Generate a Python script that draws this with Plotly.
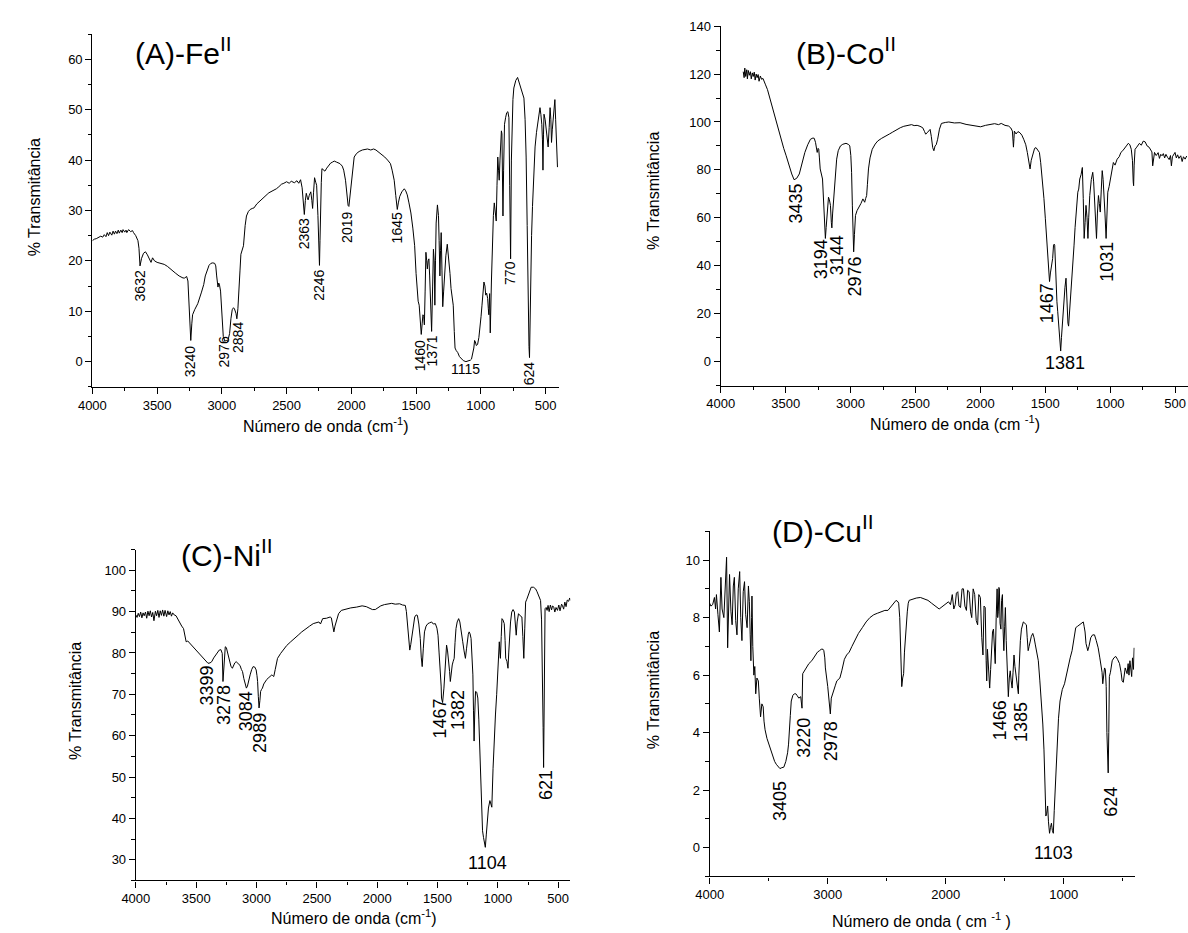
import plotly.graph_objects as go

W, H = 1188, 933

# ---------------- Panel A (Fe II) ----------------
A_wn = [4000, 3985, 3970, 3951, 3935, 3920, 3908, 3895, 3885, 3875, 3865, 3850, 3840, 3830, 3821, 3810, 3800, 3792,
        3780, 3770, 3763, 3750, 3740, 3734, 3720, 3705, 3690, 3682, 3665, 3648, 3640, 3632, 3620, 3605, 3590, 3575,
        3560, 3547, 3535, 3520, 3500, 3489, 3465, 3445, 3420, 3388, 3360, 3330, 3300, 3287, 3272, 3262, 3255, 3248,
        3240, 3232, 3226, 3210, 3186, 3157, 3140, 3128, 3110, 3099, 3085, 3070, 3055, 3047, 3040, 3035, 3030, 3024,
        3018, 3010, 3000, 2989, 2976, 2965, 2955, 2948, 2940, 2930, 2920, 2910, 2903, 2891, 2884, 2876, 2868, 2860,
        2853, 2843, 2833, 2820, 2810, 2795, 2781, 2765, 2752, 2730, 2710, 2695, 2670, 2650, 2637, 2610, 2590, 2579,
        2560, 2540, 2521, 2500, 2480, 2464, 2440, 2420, 2406, 2392, 2380, 2370, 2363, 2355, 2348, 2340, 2334, 2325,
        2313, 2305, 2299, 2292, 2284, 2275, 2268, 2258, 2250, 2246, 2242, 2238, 2232, 2227, 2215, 2204, 2190, 2175,
        2160, 2145, 2132, 2115, 2100, 2088, 2070, 2059, 2045, 2036, 2025, 2019, 2012, 2001, 1990, 1978, 1960, 1940,
        1915, 1895, 1875, 1850, 1828, 1810, 1790, 1765, 1742, 1720, 1698, 1685, 1669, 1657, 1645, 1637, 1626, 1610,
        1598, 1591, 1580, 1568, 1555, 1540, 1525, 1511, 1500, 1493, 1484, 1476, 1468, 1460, 1453, 1447, 1441, 1436,
        1430, 1424, 1418, 1413, 1407, 1401, 1395, 1388, 1380, 1372, 1366, 1360, 1355, 1350, 1345, 1335, 1327, 1322,
        1316, 1311, 1306, 1300, 1294, 1287, 1280, 1270, 1259, 1252, 1245, 1238, 1230, 1222, 1213, 1205, 1199, 1190,
        1178, 1165, 1150, 1135, 1115, 1095, 1080, 1072, 1062, 1054, 1048, 1043, 1035, 1025, 1015, 1005, 998, 991,
        983, 976, 968, 962, 955, 947, 942, 938, 932, 927, 918, 910, 903, 896, 888, 881, 875, 869, 863, 858, 852, 846,
        841, 837, 833, 829, 824, 817, 808, 800, 791, 783, 777, 770, 764, 760, 752, 745, 730, 716, 700, 687, 675, 667,
        658, 650, 642, 635, 628, 624, 620, 615, 608, 601, 590, 581, 570, 557, 550, 543, 536, 529, 524, 520, 516, 512,
        503, 494, 487, 480, 472, 465, 459, 454, 448, 442, 436, 428, 422, 415, 408]
A_T = [24.0, 24.3, 24.4, 24.6, 24.9, 24.7, 25.2, 24.8, 25.6, 25.0, 25.7, 25.1, 25.9, 25.3, 25.9, 25.4, 26.1, 25.5,
       26.1, 25.6, 26.2, 25.7, 26.1, 25.6, 26.2, 25.8, 26.0, 25.6, 25.0, 24.0, 22.5, 19.0, 20.5, 21.5, 21.8, 21.2,
       20.5, 19.7, 20.6, 20.0, 19.7, 19.6, 19.5, 19.3, 18.9, 18.3, 17.6, 17.0, 16.6, 16.6, 16.9, 16.0, 13.0, 8.0,
       4.2, 7.5, 9.3, 10.3, 11.5, 13.8, 15.3, 17.0, 18.5, 19.1, 19.5, 19.6, 19.5, 19.0, 17.0, 15.6, 14.8, 15.6,
       15.2, 14.0, 10.5, 5.0, 4.0, 4.3, 4.0, 4.8, 5.6, 8.5, 10.3, 10.7, 10.5, 9.6, 8.5, 10.5, 13.5, 18.0,
       21.3, 22.0, 23.0, 27.0, 28.9, 29.8, 30.2, 30.4, 30.5, 31.3, 31.8, 32.2, 32.9, 33.2, 33.5, 33.8, 34.1, 34.3,
       34.7, 35.2, 35.4, 35.7, 35.4, 35.8, 35.5, 35.9, 35.4, 36.1, 34.5, 31.0, 29.2, 32.0, 33.4, 32.6, 32.1, 33.0,
       33.7, 32.0, 30.4, 33.5, 36.5, 35.6, 35.0, 29.0, 21.0, 19.1, 24.0, 30.8, 35.5, 38.3, 38.0, 37.8, 38.4, 38.9,
       39.4, 39.6, 39.8, 39.6, 39.5, 39.3, 38.8, 38.0, 36.0, 33.5, 31.0, 30.8, 32.5, 36.0, 39.0, 40.6, 41.3, 41.7,
       42.0, 42.1, 42.2, 42.0, 42.2, 42.0, 41.6, 41.1, 40.6, 40.0, 39.3, 38.0, 36.0, 33.0, 30.2, 31.5, 32.8, 33.7,
       34.2, 34.3, 33.9, 33.1, 31.5, 29.5, 26.5, 23.0, 17.5, 13.8, 12.0, 11.2, 8.0, 5.4, 7.5, 9.3, 9.0, 7.3,
       14.0, 21.7, 20.0, 18.4, 20.0, 20.4, 17.0, 12.0, 6.0, 15.0, 22.3, 20.0, 11.2, 20.0, 27.5, 31.1, 29.0, 24.0,
       17.0, 22.0, 25.6, 18.0, 10.9, 14.0, 17.8, 21.0, 23.3, 21.5, 20.4, 17.5, 14.5, 12.5, 11.2, 6.0, 2.7, 2.2,
       1.8, 1.0, 0.5, 0.2, 0.0, 0.1, 0.3, 0.5, 1.5, 2.7, 4.2, 4.0, 3.2, 3.4, 4.8, 6.7, 9.0, 11.2,
       14.0, 15.8, 15.0, 13.2, 13.6, 12.5, 10.5, 9.3, 13.5, 5.7, 16.0, 25.6, 29.0, 31.5, 30.0, 27.9, 35.0, 40.6,
       38.0, 36.0, 40.0, 44.5, 45.8, 45.2, 35.0, 28.9, 38.0, 47.1, 48.5, 49.4, 49.6, 48.4, 35.0, 20.4, 40.0, 47.1,
       52.0, 54.3, 55.8, 56.4, 55.0, 53.7, 52.8, 52.3, 48.0, 40.6, 27.0, 11.2, 3.0, 0.8, 8.0, 17.8, 25.0, 30.8,
       38.0, 42.6, 45.5, 47.5, 48.6, 50.4, 49.0, 47.1, 44.0, 38.0, 45.0, 49.1, 48.0, 45.2, 44.0, 42.6, 46.5, 50.4,
       48.0, 43.5, 46.0, 47.8, 50.0, 52.0, 48.0, 41.9, 38.6]

# ---------------- Panel B (Co II) ----------------
B_wn = [3827, 3820, 3815, 3808, 3800, 3795, 3788, 3780, 3772, 3765, 3757, 3750, 3742, 3735, 3727, 3720, 3712, 3705,
        3695, 3685, 3675, 3665, 3655, 3640, 3625, 3611, 3595, 3582, 3560, 3539, 3515, 3496, 3475, 3453, 3435, 3415,
        3395, 3375, 3352, 3330, 3309, 3290, 3280, 3270, 3265, 3257, 3250, 3245, 3240, 3234, 3216, 3205, 3198, 3194,
        3188, 3180, 3170, 3163, 3155, 3148, 3144, 3138, 3128, 3115, 3107, 3095, 3078, 3060, 3035, 3015, 3006, 2998,
        2992, 2986, 2980, 2976, 2970, 2962, 2950, 2934, 2920, 2905, 2898, 2891, 2884, 2876, 2870, 2862, 2850, 2833,
        2810, 2790, 2760, 2732, 2700, 2675, 2645, 2617, 2590, 2560, 2530, 2510, 2487, 2465, 2444, 2430, 2421, 2410,
        2401, 2387, 2378, 2367, 2358, 2349, 2340, 2329, 2315, 2300, 2270, 2243, 2200, 2156, 2110, 2070, 2035, 1998,
        1960, 1926, 1890, 1860, 1839, 1810, 1782, 1765, 1753, 1748, 1745, 1741, 1738, 1725, 1710, 1695, 1680, 1666,
        1650, 1638, 1625, 1617, 1608, 1594, 1582, 1571, 1558, 1545, 1535, 1522, 1510, 1499, 1488, 1479, 1472, 1467,
        1460, 1450, 1443, 1436, 1431, 1427, 1422, 1416, 1410, 1404, 1398, 1395, 1388, 1381, 1375, 1369, 1362, 1355,
        1348, 1340, 1334, 1329, 1325, 1320, 1313, 1306, 1299, 1292, 1285, 1278, 1270, 1263, 1256, 1249, 1242, 1234,
        1224, 1214, 1207, 1200, 1193, 1186, 1178, 1171, 1165, 1157, 1145, 1134, 1127, 1119, 1112, 1105, 1098, 1090,
        1083, 1076, 1068, 1061, 1054, 1047, 1040, 1031, 1025, 1018, 1008, 998, 988, 975, 962, 946, 930, 917, 903,
        889, 875, 860, 848, 837, 828, 822, 819, 815, 808, 795, 785, 774, 760, 745, 730, 715, 700, 687, 678, 672,
        665, 658, 645, 630, 620, 610, 600, 590, 580, 570, 557, 545, 535, 528, 520, 510, 500, 490, 480, 470, 456,
        445, 435, 422, 410]
B_T = [121.0, 118.5, 122.5, 119.0, 121.8, 118.0, 121.5, 119.5, 121.0, 118.0, 120.5, 119.0, 120.8, 117.5, 120.0, 118.5,
       119.8, 117.0, 119.2, 117.8, 118.2, 116.5, 115.5, 113.5, 110.5, 108.0, 105.0, 102.4, 97.5, 92.8, 89.0, 85.9,
       82.0, 78.3, 75.9, 76.5, 78.3, 82.5, 87.3, 90.5, 92.8, 93.3, 93.2, 91.5, 90.0, 87.3, 89.0, 88.6, 85.0, 80.4,
       76.2, 65.0, 55.0, 51.4, 56.0, 62.4, 68.6, 67.5, 65.2, 58.0, 55.8, 62.0, 70.7, 80.0, 84.5, 88.0, 90.0, 90.7,
       91.1, 90.6, 90.0, 86.0, 79.0, 65.0, 51.4, 45.8, 53.0, 61.0, 63.0, 64.5, 66.0, 67.9, 67.0, 66.5, 68.0, 69.3,
       74.0, 80.4, 85.0, 88.6, 90.8, 92.1, 93.2, 94.2, 95.0, 95.8, 96.8, 97.6, 98.2, 98.7, 98.9, 98.5, 98.6, 98.2,
       97.6, 96.0, 94.9, 95.5, 96.2, 96.9, 94.0, 89.3, 88.0, 90.0, 90.5, 92.8, 97.0, 99.4, 99.8, 100.0, 99.6, 99.7,
       99.0, 98.6, 98.3, 98.0, 98.6, 99.0, 99.3, 98.9, 99.4, 98.6, 98.3, 97.5, 96.2, 92.0, 89.5, 93.0, 96.2, 95.0,
       96.0, 95.5, 94.5, 92.8, 90.5, 87.3, 82.5, 80.4, 84.0, 87.3, 89.0, 89.3, 88.5, 87.3, 83.0, 76.2, 68.0, 59.6,
       50.0, 40.3, 35.0, 33.4, 37.0, 41.0, 43.0, 48.6, 49.0, 48.6, 40.0, 30.7, 25.0, 21.0, 16.0, 11.3, 8.0, 4.4,
       10.0, 15.5, 22.0, 26.5, 31.0, 34.8, 26.0, 18.9, 16.0, 14.8, 20.0, 23.7, 30.0, 37.6, 43.0, 48.6, 56.0, 62.4,
       67.0, 70.7, 72.0, 76.2, 78.0, 81.0, 68.0, 51.4, 58.0, 65.2, 60.0, 51.4, 60.0, 69.3, 76.0, 79.0, 75.0, 67.9,
       60.0, 51.4, 62.0, 69.3, 66.0, 62.4, 72.0, 79.7, 76.0, 70.7, 62.0, 51.4, 62.0, 70.7, 73.0, 76.2, 80.0, 83.1,
       82.0, 84.5, 85.5, 87.3, 88.0, 89.3, 90.0, 91.1, 90.5, 88.6, 84.0, 75.0, 73.4, 82.0, 88.6, 89.5, 90.5, 91.1,
       90.3, 92.0, 91.7, 90.0, 89.5, 88.6, 87.5, 81.7, 86.0, 87.3, 86.0, 87.2, 84.8, 86.5, 85.9, 86.8, 85.0, 86.5,
       85.2, 84.3, 86.0, 81.7, 85.5, 86.5, 87.3, 85.0, 86.3, 84.8, 85.9, 83.5, 85.5, 84.5, 85.8]

# ---------------- Panel C (Ni II) ----------------
C_wn = [4000, 3990, 3980, 3970, 3960, 3950, 3940, 3931, 3920, 3910, 3900, 3890, 3880, 3870, 3860, 3850, 3838, 3828,
        3818, 3808, 3798, 3788, 3778, 3768, 3758, 3745, 3735, 3725, 3715, 3705, 3695, 3682, 3667, 3650, 3636, 3620,
        3605, 3595, 3583, 3570, 3558, 3545, 3533, 3515, 3496, 3470, 3449, 3425, 3402, 3385, 3371, 3355, 3340, 3325,
        3309, 3295, 3284, 3278, 3271, 3264, 3259, 3250, 3240, 3230, 3222, 3212, 3200, 3190, 3180, 3169, 3155, 3145,
        3137, 3125, 3116, 3105, 3091, 3084, 3075, 3065, 3053, 3040, 3028, 3015, 3003, 2996, 2991, 2985, 2979, 2972,
        2966, 2958, 2951, 2940, 2929, 2915, 2904, 2890, 2873, 2865, 2857, 2845, 2835, 2826, 2800, 2779, 2750, 2717,
        2690, 2655, 2625, 2592, 2560, 2530, 2505, 2483, 2470, 2452, 2420, 2390, 2380, 2374, 2365, 2359, 2350, 2337,
        2320, 2297, 2260, 2219, 2170, 2125, 2090, 2063, 2040, 2016, 1995, 1970, 1940, 1907, 1880, 1850, 1814, 1790,
        1767, 1758, 1752, 1740, 1730, 1722, 1714, 1700, 1689, 1677, 1667, 1655, 1643, 1635, 1627, 1618, 1608, 1595,
        1580, 1565, 1549, 1535, 1518, 1505, 1496, 1487, 1478, 1470, 1467, 1458, 1447, 1437, 1430, 1425, 1417, 1409,
        1400, 1394, 1386, 1378, 1370, 1362, 1355, 1347, 1337, 1325, 1315, 1306, 1298, 1291, 1280, 1269, 1260, 1253,
        1245, 1238, 1230, 1222, 1214, 1207, 1202, 1197, 1192, 1185, 1175, 1166, 1158, 1151, 1143, 1135, 1127, 1119,
        1112, 1104, 1096, 1088, 1078, 1066, 1058, 1050, 1040, 1029, 1020, 1010, 1000, 988, 983, 979, 972, 966, 958,
        947, 940, 935, 925, 916, 910, 904, 895, 885, 874, 863, 855, 848, 840, 829, 815, 801, 793, 785, 777, 770, 760,
        748, 735, 724, 705, 687, 675, 662, 654, 646, 638, 630, 625, 621, 616, 609, 600, 592, 584, 575, 565, 555, 547,
        537, 528, 518, 506, 495, 485, 472, 465, 455, 445, 435, 425, 413, 405, 398]
C_T = [89.2, 88.6, 89.6, 88.8, 89.9, 88.5, 89.7, 89.0, 89.9, 88.4, 90.1, 89.0, 90.2, 88.7, 89.8, 87.8, 90.1, 89.0,
       90.3, 88.6, 90.2, 89.1, 90.4, 88.9, 90.3, 88.8, 90.2, 89.2, 90.0, 88.9, 89.7, 89.2, 89.0, 88.0, 87.5, 86.5,
       85.9, 84.5, 82.7, 82.9, 82.5, 82.3, 81.9, 81.2, 80.7, 79.8, 79.1, 78.2, 77.5, 77.6, 77.9, 78.8, 79.5, 80.2,
       80.7, 80.8, 79.9, 73.1, 76.0, 80.5, 81.5, 81.3, 80.0, 79.0, 78.0, 76.8, 76.3, 77.0, 77.6, 77.9, 77.6, 77.3,
       77.0, 76.0, 75.5, 73.8, 72.3, 71.5, 72.0, 73.5, 74.7, 76.0, 76.7, 76.6, 75.9, 74.5, 73.1, 69.5, 66.7, 68.5,
       70.7, 71.2, 71.5, 72.5, 73.1, 73.6, 73.9, 74.3, 74.7, 74.5, 74.3, 76.0, 77.5, 78.7, 79.9, 80.7, 81.8, 82.7,
       83.5, 84.3, 85.1, 85.9, 86.5, 87.1, 87.3, 87.5, 87.0, 88.3, 88.4, 88.7, 88.5, 87.3, 85.5, 85.1, 86.5, 88.0,
       89.5, 90.3, 90.6, 90.9, 91.1, 91.4, 91.2, 90.9, 90.5, 90.5, 91.0, 91.4, 91.7, 91.9, 92.0, 91.8, 91.9, 91.6,
       91.5, 90.0, 87.5, 83.0, 80.7, 82.0, 83.5, 87.0, 88.7, 89.2, 89.1, 87.0, 83.5, 79.0, 76.7, 81.0, 85.1, 86.5,
       87.1, 87.3, 87.5, 87.0, 87.1, 86.0, 84.3, 80.0, 76.3, 72.0, 69.1, 68.0, 71.5, 77.0, 81.5, 81.9, 80.5, 78.7,
       75.5, 73.1, 75.5, 77.1, 78.0, 78.7, 82.5, 85.9, 87.5, 88.3, 87.5, 85.1, 84.0, 82.7, 80.5, 78.7, 81.0, 83.5,
       84.5, 85.1, 84.6, 83.5, 80.0, 74.7, 66.0, 58.7, 65.0, 70.7, 70.5, 69.1, 64.0, 57.9, 48.0, 40.2, 37.0, 35.4,
       34.5, 33.0, 36.0, 39.4, 42.5, 44.3, 43.5, 42.7, 52.0, 60.3, 65.0, 69.9, 76.0, 82.7, 80.0, 78.7, 84.0, 88.3, 88.0,
       87.1, 83.0, 78.7, 78.0, 76.3, 80.0, 84.3, 87.5, 89.9, 90.5, 89.9, 87.0, 84.3, 87.5, 89.5, 89.0, 88.7, 84.0,
       78.7, 86.0, 92.3, 93.0, 93.9, 95.0, 95.9, 95.9, 95.5, 94.8, 93.9, 93.5, 92.7, 88.0, 76.3, 62.0, 52.3, 70.0,
       90.7, 91.0, 90.3, 91.5, 90.0, 91.6, 90.4, 91.4, 91.1, 89.9, 91.0, 90.3, 91.6, 90.2, 91.8, 91.5, 90.6, 92.3,
       91.2, 92.8, 92.5, 93.3, 92.7]

# ---------------- Panel D (Cu II) ----------------
D_wn = [4000, 3990, 3975, 3960, 3950, 3943, 3930, 3918, 3905, 3895, 3880, 3870, 3857, 3848, 3840, 3832, 3820, 3810,
        3800, 3791, 3780, 3769, 3758, 3746, 3737, 3727, 3716, 3705, 3695, 3683, 3672, 3664, 3657, 3651, 3645, 3642,
        3635, 3626, 3618, 3610, 3600, 3588, 3580, 3569, 3558, 3547, 3540, 3531, 3515, 3499, 3480, 3467, 3450, 3436,
        3420, 3405, 3390, 3372, 3355, 3340, 3332, 3325, 3317, 3309, 3295, 3283, 3270, 3261, 3245, 3229, 3222, 3218,
        3212, 3195, 3180, 3160, 3135, 3110, 3087, 3070, 3055, 3040, 3033, 3025, 3020, 3000, 2985, 2978, 2970, 2960,
        2945, 2935, 2923, 2910, 2897, 2881, 2870, 2859, 2840, 2818, 2795, 2770, 2740, 2707, 2675, 2643, 2610, 2580,
        2550, 2516, 2490, 2469, 2445, 2421, 2405, 2399, 2390, 2380, 2373, 2365, 2357, 2350, 2342, 2334, 2326, 2318,
        2310, 2295, 2278, 2250, 2215, 2185, 2151, 2120, 2088, 2070, 2056, 2040, 2024, 2000, 1977, 1960, 1945, 1932,
        1920, 1910, 1898, 1888, 1875, 1862, 1850, 1838, 1825, 1815, 1802, 1790, 1780, 1768, 1755, 1742, 1730, 1720,
        1707, 1695, 1685, 1676, 1666, 1658, 1653, 1647, 1641, 1635, 1628, 1620, 1612, 1604, 1596, 1588, 1581, 1573,
        1565, 1560, 1555, 1550, 1546, 1540, 1533, 1527, 1520, 1514, 1508, 1501, 1495, 1488, 1482, 1476, 1470, 1462,
        1454, 1446, 1438, 1430, 1422, 1414, 1406, 1395, 1385, 1381, 1375, 1368, 1359, 1350, 1343, 1330, 1317, 1310,
        1302, 1294, 1286, 1275, 1263, 1252, 1241, 1228, 1216, 1203, 1190, 1178, 1168, 1160, 1152, 1145, 1137, 1130,
        1121, 1113, 1105, 1097, 1089, 1081, 1073, 1065, 1057, 1045, 1032, 1013, 994, 978, 962, 946, 930, 915, 899,
        883, 867, 851, 843, 835, 828, 820, 812, 805, 797, 787, 772, 756, 740, 725, 709, 695, 683, 676, 670, 663, 655,
        648, 641, 635, 629, 624, 619, 614, 605, 590, 576, 560, 545, 528, 515, 506, 496, 488, 480, 472, 464, 455, 448,
        440, 432, 425, 418, 410, 404]
D_T = [8.5, 8.4, 8.45, 8.7, 8.3, 8.8, 8.1, 7.5, 9.4, 8.3, 8.0, 9.2, 10.1, 6.95, 9.0, 9.5, 8.2, 7.75,
       9.1, 9.4, 7.9, 7.4, 9.0, 9.6, 8.0, 7.2, 8.9, 9.25, 8.1, 7.65, 9.1, 8.55, 7.4, 6.5, 8.0, 8.75,
       7.0, 6.0, 6.3, 5.35, 5.9, 5.8, 5.2, 4.55, 5.0, 4.9, 4.4, 4.1, 3.8, 3.6, 3.3, 3.15, 3.0, 2.9,
       2.8, 2.75, 2.78, 2.8, 3.0, 3.3, 3.6, 3.95, 4.6, 5.1, 5.3, 5.35, 5.35, 5.3, 5.2, 5.25, 4.95, 4.85,
       6.05, 6.15, 6.25, 6.4, 6.5, 6.65, 6.8, 6.85, 6.9, 6.9, 6.85, 6.6, 6.25, 5.6, 4.9, 4.65, 5.2, 5.35,
       5.5, 5.65, 5.8, 5.85, 5.9, 6.15, 6.35, 6.55, 6.7, 6.8, 7.0, 7.2, 7.45, 7.65, 7.85, 8.0, 8.1, 8.15,
       8.2, 8.25, 8.25, 8.35, 8.45, 8.6, 8.55, 8.5, 8.0, 6.8, 5.6, 5.9, 6.05, 6.8, 7.4, 7.9, 8.2, 8.5,
       8.6, 8.62, 8.65, 8.68, 8.7, 8.65, 8.6, 8.5, 8.4, 8.33, 8.3, 8.35, 8.4, 8.5, 8.55, 8.45, 8.8, 8.3,
       8.45, 8.85, 8.9, 8.4, 8.35, 9.0, 9.0, 8.4, 8.25, 8.95, 8.9, 8.2, 8.0, 9.0, 8.8, 7.9, 7.75, 8.8,
       8.7, 7.3, 6.7, 8.4, 8.35, 6.5, 5.8, 6.9, 6.4, 6.0, 5.55, 6.2, 6.7, 7.5, 7.6, 6.8, 6.4, 8.0,
       9.0, 8.0, 8.2, 9.05, 9.0, 7.8, 7.6, 8.6, 8.8, 7.5, 6.85, 7.7, 8.35, 7.2, 6.25, 5.8, 5.25, 5.9,
       6.15, 5.8, 5.55, 6.1, 6.7, 6.3, 6.05, 5.6, 5.35, 6.0, 6.7, 7.2, 7.6, 7.75, 7.85, 7.8, 7.75, 7.3,
       6.85, 7.0, 7.2, 7.35, 7.45, 7.3, 7.05, 6.8, 6.5, 5.8, 5.1, 4.3, 3.4, 2.2, 1.1, 1.2, 1.45, 0.9,
       0.5, 0.7, 0.85, 0.6, 0.5, 1.3, 2.1, 3.0, 3.75, 4.5, 5.1, 5.5, 5.7, 6.0, 6.4, 6.6, 6.85, 7.25, 7.65,
       7.7, 7.75, 7.8, 7.85, 7.85, 7.7, 7.5, 7.1, 6.9, 6.85, 7.0, 7.3, 7.4, 7.4, 7.2, 6.95, 6.6, 6.25, 6.1, 5.7,
       5.9, 6.25, 6.2, 5.6, 4.0, 3.0, 2.6, 4.0, 5.95, 6.1, 6.5, 6.6, 6.65, 6.55, 6.4, 6.1, 5.8, 5.75, 6.0, 6.25,
       6.15, 6.05, 6.4, 6.0, 6.5, 6.1, 5.95, 6.6, 6.2, 6.95]

# Peak labels: (wavenumber position, y position, text)
A_labels = [(3632, 18.4, "3632"), (3245, 3.4, "3240"), (2983, 5.3, "2976"), (2874, 8.2, "2884"),
            (2363, 28.8, "2363"), (2247, 18.6, "2246"), (2030, 30.1, "2019"), (1640, 30.1, "1645"),
            (1467, 4.6, "1460"), (1380, 5.6, "1371"), (770, 20.3, "770"), (630, 0.4, "624")]
A_hlabels = [(1115, -1.4, "1115")]
B_labels = [(3424, 75.0, "3435"), (3226, 52.0, "3194"), (3107, 53.4, "3144"), (2969, 44.5, "2976"),
            (1488, 33.4, "1467"), (1027, 50.7, "1031")]
B_hlabels = [(1348, -0.5, "1381")]
C_labels = [(3408, 77.5, "3399"), (3271, 72.7, "3278"), (3091, 71.1, "3084"), (2966, 65.9, "2989"),
            (1478, 69.5, "1467"), (1331, 71.5, "1382"), (606, 52.3, "621")]
C_hlabels = [(1082, 29.3, "1104")]
D_labels = [(3410, 2.4, "3405"), (3198, 4.6, "3220"), (2976, 4.45, "2978"), (1539, 5.2, "1466"),
            (1368, 5.15, "1385"), (597, 2.2, "624")]
D_hlabels = [(1089, -0.17, "1103")]

FONT = "Arial, Liberation Sans, sans-serif"


def px(x):
    return x / W


def py(y):
    return 1 - y / H


fig = go.Figure()
line = dict(color="black", width=1)
fig.add_trace(go.Scatter(x=A_wn, y=A_T, mode="lines", line=line, xaxis="x", yaxis="y", showlegend=False))
fig.add_trace(go.Scatter(x=B_wn, y=B_T, mode="lines", line=line, xaxis="x2", yaxis="y2", showlegend=False))
fig.add_trace(go.Scatter(x=C_wn, y=C_T, mode="lines", line=line, xaxis="x3", yaxis="y3", showlegend=False))
fig.add_trace(go.Scatter(x=D_wn, y=D_T, mode="lines", line=line, xaxis="x4", yaxis="y4", showlegend=False))


def axis(rng, dtick, mdtick, dom, anchor):
    return dict(range=rng, dtick=dtick, tick0=0, domain=dom, anchor=anchor, showline=True, linecolor="black",
                linewidth=1.3, ticks="outside", ticklen=6, tickwidth=1.3, tickcolor="black", showgrid=False,
                zeroline=False, mirror=False, tickfont=dict(family=FONT, size=13, color="black"),
                minor=dict(ticks="outside", ticklen=3.5, tickwidth=1.3, tickcolor="black", dtick=mdtick, tick0=0,
                           showgrid=False),
                fixedrange=True)


layout = dict(
    width=W, height=H, margin=dict(l=0, r=0, t=0, b=0), paper_bgcolor="white", plot_bgcolor="white",
    font=dict(family=FONT, color="black"),
    xaxis=axis([4000, 400], 500, 250, [px(79.3), px(551)], "y"),
    yaxis=axis([-5, 65], 10, 5, [py(382.7), py(27.3)], "x"),
    xaxis2=axis([4000, 400], 500, 250, [px(715.2), 1.0], "y2"),
    yaxis2=axis([-10, 140], 20, 10, [py(381.4), py(19.3)], "x2"),
    xaxis3=axis([4000, 400], 500, 250, [px(123.3), px(562.9)], "y3"),
    yaxis3=axis([25, 105], 10, 5, [py(880), py(546.7)], "x3"),
    xaxis4=axis([4000, 400], 1000, 500, [px(704), px(1134)], "y4"),
    yaxis4=axis([-1, 11], 2, 1, [py(876), py(528.3)], "x4"),
)
fig.update_layout(**layout)

ann = []


def add_peak_labels(labels, hlabels, xr, yr, size):
    for x, y, t in labels:
        ann.append(dict(x=x, y=y, xref=xr, yref=yr, text=t, showarrow=False, textangle=-90, xanchor="center",
                        yanchor="top", font=dict(family=FONT, size=size, color="black")))
    for x, y, t in hlabels:
        ann.append(dict(x=x, y=y, xref=xr, yref=yr, text=t, showarrow=False, xanchor="center",
                        yanchor="middle", font=dict(family=FONT, size=size, color="black")))


add_peak_labels(A_labels, A_hlabels, "x", "y", 14)
add_peak_labels(B_labels, B_hlabels, "x2", "y2", 18)
add_peak_labels(C_labels, C_hlabels, "x3", "y3", 18)
add_peak_labels(D_labels, D_hlabels, "x4", "y4", 18)

# panel titles
for x0, y0, t in [(120, 44, "(A)-Fe<sup>II</sup>"), (789, 44, "(B)-Co<sup>II</sup>"),
                  (167, 550, "(C)-Ni<sup>II</sup>"), (765, 526, "(D)-Cu<sup>II</sup>")]:
    ann.append(dict(x=px(x0), y=py(y0), xref="paper", yref="paper", text=t, showarrow=False, xanchor="left",
                    yanchor="middle", font=dict(family=FONT, size=30, color="black")))

# axis titles
ytitle = "% Transmitância"
for x0, y0 in [(21, 192), (647, 185), (62, 699), (647, 688)]:
    ann.append(dict(x=px(x0), y=py(y0), xref="paper", yref="paper", text=ytitle, showarrow=False, textangle=-90,
                    xanchor="center", yanchor="middle", font=dict(family=FONT, size=16, color="black")))
for x0, y0, t in [(316, 421, "Número de onda (cm<sup>-1</sup>)"), (952, 419, "Número de onda (cm <sup>-1</sup>)"),
                  (344, 917, "Número de onda (cm<sup>-1</sup>)"), (918, 920, "Número de onda ( cm <sup>-1</sup> )")]:
    ann.append(dict(x=px(x0), y=py(y0), xref="paper", yref="paper", text=t, showarrow=False, xanchor="center",
                    yanchor="middle", font=dict(family=FONT, size=16, color="black")))

fig.update_layout(annotations=ann)
fig.write_html("out.html")
